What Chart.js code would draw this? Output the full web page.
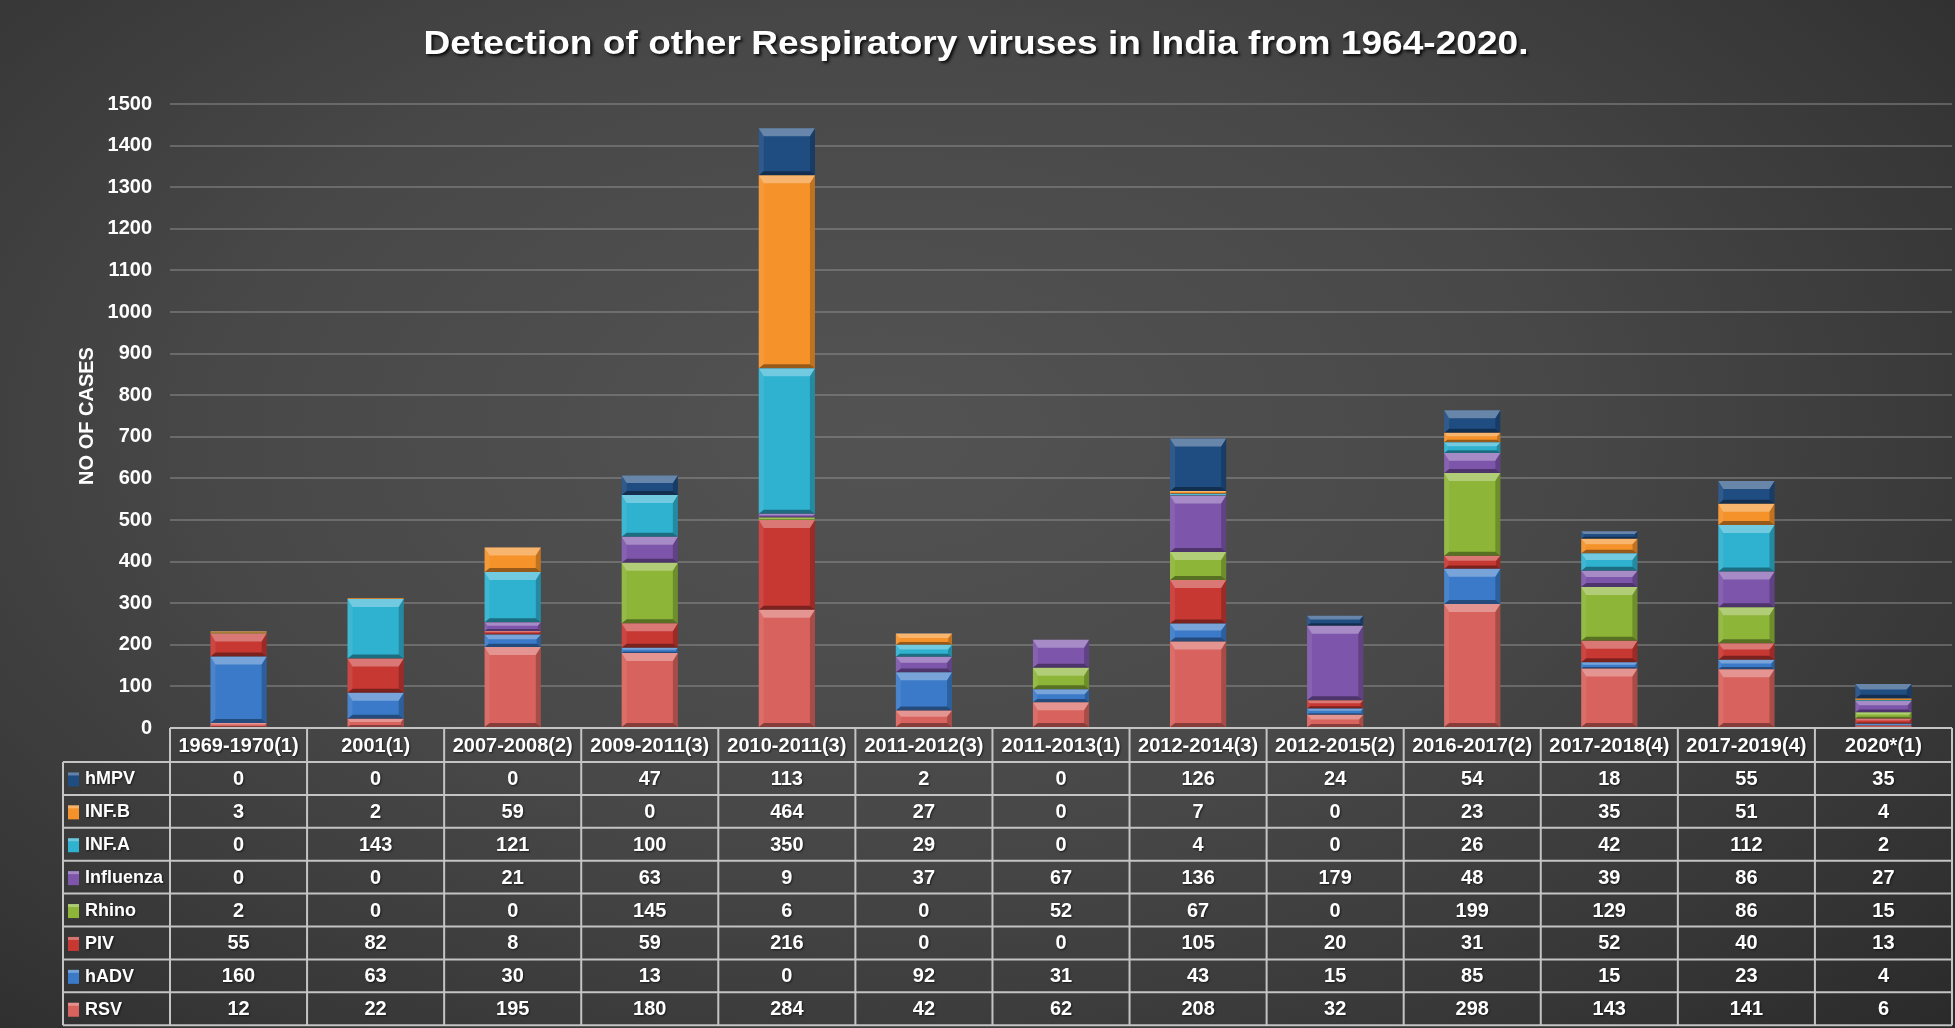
<!DOCTYPE html>
<html lang="en">
<head>
  <meta charset="UTF-8">
  <title>Respiratory viruses in India</title>
  <style>
    html, body {
      margin: 0;
      padding: 0;
      overflow: hidden;
    }
    body {
      width: 1955px;
      height: 1028px;
      background: radial-gradient(ellipse 75% 85% at 45% 42%, #535353 0%, #484848 45%, #363636 80%, #2a2a2a 100%);
    }
    .chart-box {
      position: relative;
      width: 1955px;
      height: 1028px;
    }
  </style>
</head>
<body>
  <div class="chart-box">
    <canvas id="virusChart"></canvas>
  </div>

  <script src="https://cdn.jsdelivr.net/npm/chart.js"></script>
  <script>
    const categories = ['1969-1970(1)', '2001(1)', '2007-2008(2)', '2009-2011(3)', '2010-2011(3)', '2011-2012(3)',
      '2011-2013(1)', '2012-2014(3)', '2012-2015(2)', '2016-2017(2)', '2017-2018(4)', '2017-2019(4)', '2020*(1)'];

    // stacked bottom to top
    const rsv       = [12, 22, 195, 180, 284, 42, 62, 208, 32, 298, 143, 141, 6];
    const hadv      = [160, 63, 30, 13, 0, 92, 31, 43, 15, 85, 15, 23, 4];
    const piv       = [55, 82, 8, 59, 216, 0, 0, 105, 20, 31, 52, 40, 13];
    const rhino     = [2, 0, 0, 145, 6, 0, 52, 67, 0, 199, 129, 86, 15];
    const influenza = [0, 0, 21, 63, 9, 37, 67, 136, 179, 48, 39, 86, 27];
    const infA      = [0, 143, 121, 100, 350, 29, 0, 4, 0, 26, 42, 112, 2];
    const infB      = [3, 2, 59, 0, 464, 27, 0, 7, 0, 23, 35, 51, 4];
    const hmpv      = [0, 0, 0, 47, 113, 2, 0, 126, 24, 54, 18, 55, 35];

    const seriesNames = ['RSV', 'hADV', 'PIV', 'Rhino', 'Influenza', 'INF.A', 'INF.B', 'hMPV'];
    const seriesData = [rsv, hadv, piv, rhino, influenza, infA, infB, hmpv];
    const seriesColors = ['#d8625d', '#3a7ac9', '#c73833', '#8db538', '#7d55ab', '#2fb1d0', '#f5922a', '#1f4d82'];

    const yTicks = { min: 0, max: 1500, step: 100 };
    const FONT = 'Liberation Sans, Arial, sans-serif';
    const TITLE = 'Detection of other Respiratory viruses in India from 1964-2020.';

    // title drawn above the plot, stretched to the width it has in the picture
    const titlePlugin = {
      id: 'bigTitle',
      afterDraw(chart) {
        const ctx = chart.ctx;
        ctx.save();
        ctx.font = 'bold 33px ' + FONT;
        const w = ctx.measureText(TITLE).width;
        ctx.translate(976, 45);
        ctx.scale(1105 / w, 1);
        ctx.fillStyle = '#ffffff';
        ctx.textAlign = 'center';
        ctx.textBaseline = 'middle';
        ctx.shadowColor = 'rgba(0,0,0,0.85)';
        ctx.shadowOffsetX = 2;
        ctx.shadowOffsetY = 2;
        ctx.shadowBlur = 3;
        ctx.fillText(TITLE, 0, 0);
        ctx.restore();
      }
    };

    function bevelPath(ctx, pts) {
      ctx.beginPath();
      ctx.moveTo(pts[0][0], pts[0][1]);
      for (let i = 1; i < pts.length; i++) ctx.lineTo(pts[i][0], pts[i][1]);
      ctx.closePath();
      ctx.fill();
    }

    // excel style bevel on every bar segment
    const bevelPlugin = {
      id: 'bevel',
      afterDatasetsDraw(chart) {
        const ctx = chart.ctx;
        ctx.save();
        chart.data.datasets.forEach((ds, di) => {
          const meta = chart.getDatasetMeta(di);
          meta.data.forEach(bar => {
            const p = bar.getProps(['x', 'y', 'base', 'width'], true);
            const l = p.x - p.width / 2, r = p.x + p.width / 2;
            const t = Math.min(p.y, p.base), b = Math.max(p.y, p.base);
            const h = b - t;
            if (h < 1) return;
            const bt = Math.min(8, h / 2.6);
            const bb = Math.min(4, h / 4);
            const bs = Math.min(5, h / 3);
            ctx.fillStyle = 'rgba(255,255,255,0.32)';
            bevelPath(ctx, [[l, t], [r, t], [r - bs, t + bt], [l + bs, t + bt]]);
            ctx.fillStyle = 'rgba(0,0,0,0.38)';
            bevelPath(ctx, [[l, b], [r, b], [r - bs, b - bb], [l + bs, b - bb]]);
            ctx.fillStyle = 'rgba(255,255,255,0.08)';
            bevelPath(ctx, [[l, t], [l + bs, t + bt], [l + bs, b - bb], [l, b]]);
            ctx.fillStyle = 'rgba(0,0,0,0.22)';
            bevelPath(ctx, [[r, t], [r - bs, t + bt], [r - bs, b - bb], [r, b]]);
          });
        });
        ctx.restore();
      }
    };

    // data table under the x axis
    const tablePlugin = {
      id: 'dataTable',
      afterDraw(chart) {
        const ctx = chart.ctx;
        const area = chart.chartArea;
        const xs = chart.scales.x;
        const n = categories.length;
        const colW = (area.right - area.left) / n;
        const headTop = area.bottom;
        const headH = 34;
        const rowH = 32.9;
        const legLeft = 63;
        const rowsTop = headTop + headH;
        const rows = seriesNames.length;

        ctx.save();
        ctx.strokeStyle = '#c4c4c4';
        ctx.lineWidth = 2;

        // horizontal lines
        ctx.beginPath();
        ctx.moveTo(area.left, headTop);
        ctx.lineTo(area.right, headTop);
        for (let r = 0; r <= rows; r++) {
          const y = rowsTop + r * rowH;
          ctx.moveTo(legLeft, y);
          ctx.lineTo(area.right, y);
        }
        // vertical lines
        ctx.moveTo(legLeft, rowsTop);
        ctx.lineTo(legLeft, rowsTop + rows * rowH);
        for (let c = 0; c <= n; c++) {
          const x = area.left + c * colW;
          ctx.moveTo(x, headTop);
          ctx.lineTo(x, rowsTop + rows * rowH);
        }
        ctx.stroke();

        ctx.fillStyle = '#ffffff';
        ctx.textBaseline = 'middle';
        ctx.shadowColor = 'rgba(0,0,0,0.6)';
        ctx.shadowOffsetX = 1;
        ctx.shadowOffsetY = 1;
        ctx.shadowBlur = 2;

        // header
        ctx.font = 'bold 20px ' + FONT;
        ctx.textAlign = 'center';
        categories.forEach((c, i) => {
          ctx.fillText(c, xs.getPixelForValue(i), headTop + headH / 2 + 1);
        });

        // rows: top row is the top of the stack
        for (let r = 0; r < rows; r++) {
          const si = rows - 1 - r;
          const yc = rowsTop + r * rowH + rowH / 2 + 1;
          ctx.textAlign = 'center';
          ctx.font = 'bold 20px ' + FONT;
          seriesData[si].forEach((v, i) => {
            ctx.fillText(String(v), xs.getPixelForValue(i), yc);
          });
          // legend key
          ctx.save();
          ctx.shadowColor = 'transparent';
          ctx.fillStyle = seriesColors[si];
          ctx.fillRect(68, yc - 7, 11, 14);
          ctx.fillStyle = 'rgba(255,255,255,0.3)';
          ctx.fillRect(68, yc - 7, 11, 3);
          ctx.restore();
          ctx.textAlign = 'left';
          ctx.font = 'bold 18px ' + FONT;
          ctx.fillText(seriesNames[si], 85, yc);
        }
        ctx.restore();
      }
    };

    const datasets = seriesNames.map((name, i) => ({
      label: name,
      data: seriesData[i],
      backgroundColor: seriesColors[i],
      borderWidth: 0,
      barPercentage: 0.41,
      categoryPercentage: 1.0
    }));

    new Chart(document.getElementById('virusChart'), {
      type: 'bar',
      data: { labels: categories, datasets: datasets },
      options: {
        responsive: true,
        maintainAspectRatio: false,
        animation: false,
        layout: { padding: { left: 0, top: 104, right: 3, bottom: 300 } },
        plugins: {
          legend: { display: false },
          tooltip: { enabled: false }
        },
        scales: {
          x: {
            stacked: true,
            display: false
          },
          y: {
            stacked: true,
            min: yTicks.min,
            max: yTicks.max,
            afterFit(scale) { scale.width = 170; },
            border: { display: false },
            grid: { color: 'rgba(150,150,150,0.45)', lineWidth: 2, drawTicks: false },
            ticks: {
              stepSize: yTicks.step,
              padding: 18,
              color: '#ffffff',
              font: { family: FONT, size: 20, weight: 'bold' },
              callback: (v) => String(v)
            },
            title: {
              display: true,
              text: 'NO OF CASES',
              color: '#ffffff',
              padding: { top: 75, bottom: 0 },
              font: { family: FONT, size: 20, weight: 'bold' }
            }
          }
        }
      },
      plugins: [titlePlugin, bevelPlugin, tablePlugin]
    });
  </script>
</body>
</html>
